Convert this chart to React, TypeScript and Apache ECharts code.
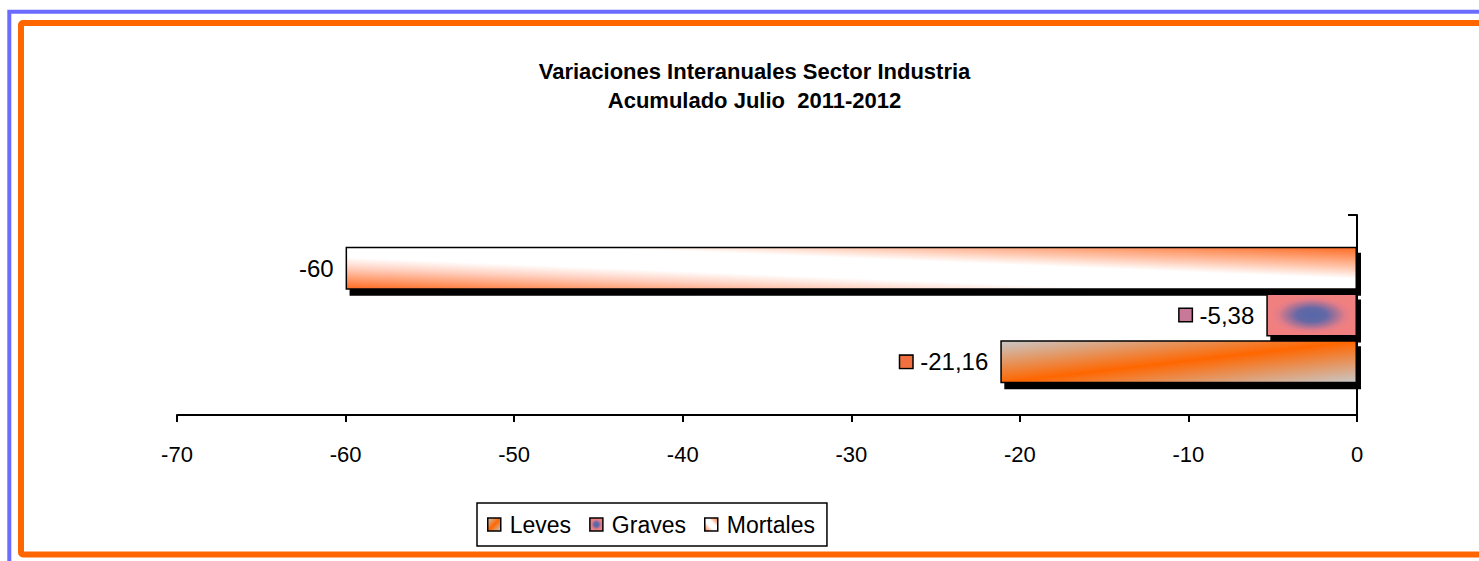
import React, { useEffect, useRef } from "react";
import * as echarts from "echarts";

const categories = ["Industria"];
const seriesNames = ["Leves", "Graves", "Mortales"];
const levesValues = [-21.16];
const gravesValues = [-5.38];
const mortalesValues = [-60];
const axisMin = -70;
const axisMax = 0;
const axisStep = 10;
const titleText = "Variaciones Interanuales Sector Industria\nAcumulado Julio  2011-2012";

const FONT = "'Liberation Sans', Arial, Helvetica, sans-serif";

const fmt = (v: number) => String(v).replace(".", ",");

const levesFill = new echarts.graphic.LinearGradient(0, 0, 1, 1, [
  { offset: 0, color: "#c8c8c8" },
  { offset: 0.5, color: "#ff6600" },
  { offset: 1, color: "#c8c8c8" },
]);
const gravesFill = new echarts.graphic.RadialGradient(0.5, 0.5, 0.55, [
  { offset: 0, color: "#5566a8" },
  { offset: 0.3, color: "#6468a6" },
  { offset: 0.68, color: "#e27c88" },
  { offset: 0.82, color: "#f08080" },
  { offset: 1, color: "#f08080" },
]);
const mortalesFill = new echarts.graphic.LinearGradient(0, 1, 1, 0, [
  { offset: 0, color: "#ff6a20" },
  { offset: 0.25, color: "#ffd0c0" },
  { offset: 0.38, color: "#ffffff" },
  { offset: 0.62, color: "#ffffff" },
  { offset: 0.75, color: "#ffc8b0" },
  { offset: 1, color: "#ff6a20" },
]);

function barSeries(name: string, data: number[], fill: any, square: string | null) {
  return {
    name,
    type: "bar",
    data,
    barWidth: 43,
    barGap: "9%",
    itemStyle: {
      color: fill,
      borderColor: "#000",
      borderWidth: 1.5,
      shadowColor: "#000",
      shadowBlur: 0,
      shadowOffsetX: 4,
      shadowOffsetY: 6,
    },
    label: {
      show: true,
      position: "left",
      distance: 12,
      formatter: (p: any) => (square ? "{sq|}{v|" + fmt(p.value) + "}" : "{v|" + fmt(p.value) + "}"),
      rich: {
        sq: {
          width: 12,
          height: 12,
          backgroundColor: square || "transparent",
          borderColor: "#000",
          borderWidth: 1.5,
        },
        v: {
          fontSize: 24,
          fontFamily: FONT,
          color: "#000",
          padding: square ? [0, 0, 0, 8] : 0,
        },
      },
    },
  };
}

export default function App() {
  const ref = useRef<HTMLDivElement>(null);
  useEffect(() => {
    if (!ref.current) return;
    const chart = echarts.init(ref.current, null, { renderer: "svg" });
    chart.setOption({
      animation: false,
      backgroundColor: "#ffffff",
      title: {
        text: titleText,
        left: 754.5,
        top: 56.5,
        padding: 0,
        textAlign: "center",
        textStyle: {
          fontFamily: FONT,
          fontSize: 22,
          fontWeight: "bold",
          color: "#000",
          lineHeight: 29,
        },
      },
      graphic: [
        {
          type: "rect",
          shape: { x: 9.3, y: 11.8, width: 1700, height: 700 },
          style: { fill: "none", stroke: "#6b6bff", lineWidth: 4 },
          silent: true,
        },
        {
          type: "rect",
          shape: { x: 21, y: 23, width: 1700, height: 531.5, r: 2 },
          style: { fill: "none", stroke: "#ff6600", lineWidth: 6 },
          silent: true,
        },
      ],
      legend: {
        data: seriesNames,
        left: 477,
        top: 503,
        orient: "horizontal",
        borderColor: "#000",
        borderWidth: 1.5,
        padding: [10, 12, 10, 10],
        itemWidth: 13,
        itemHeight: 13,
        itemGap: 18,
        icon: "rect",
        itemStyle: {
          borderColor: "#000",
          borderWidth: 1.5,
          shadowBlur: 0,
          shadowOffsetX: 0,
          shadowOffsetY: 0,
          shadowColor: "transparent",
        },
        textStyle: {
          fontFamily: FONT,
          fontSize: 23,
          color: "#000",
          padding: [0, 0, 0, 4],
        },
      },
      grid: { left: 177, right: 122, top: 215, bottom: 146, containLabel: false },
      xAxis: {
        type: "value",
        min: axisMin,
        max: axisMax,
        interval: axisStep,
        splitLine: { show: false },
        axisLine: { show: true, lineStyle: { color: "#000", width: 2 } },
        axisTick: { show: true, length: 7, lineStyle: { color: "#000", width: 2 } },
        axisLabel: { fontFamily: FONT, fontSize: 22, color: "#000", margin: 28 },
      },
      yAxis: {
        type: "category",
        data: categories,
        position: "right",
        axisLine: { show: true, onZero: false, lineStyle: { color: "#000", width: 2 } },
        axisTick: { show: true, inside: true, length: 9, lineStyle: { color: "#000", width: 2 } },
        axisLabel: { show: false },
        splitLine: { show: false },
      },
      series: [
        barSeries("Mortales", mortalesValues, mortalesFill, null),
        barSeries("Graves", gravesValues, gravesFill, "#c87898"),
        barSeries("Leves", levesValues, levesFill, "#f07040"),
      ],
    });
    return () => chart.dispose();
  }, []);
  return (
    <div
      ref={ref}
      style={{ position: "fixed", left: 0, top: 0, width: 1479, height: 561, background: "#fff" }}
    />
  );
}
